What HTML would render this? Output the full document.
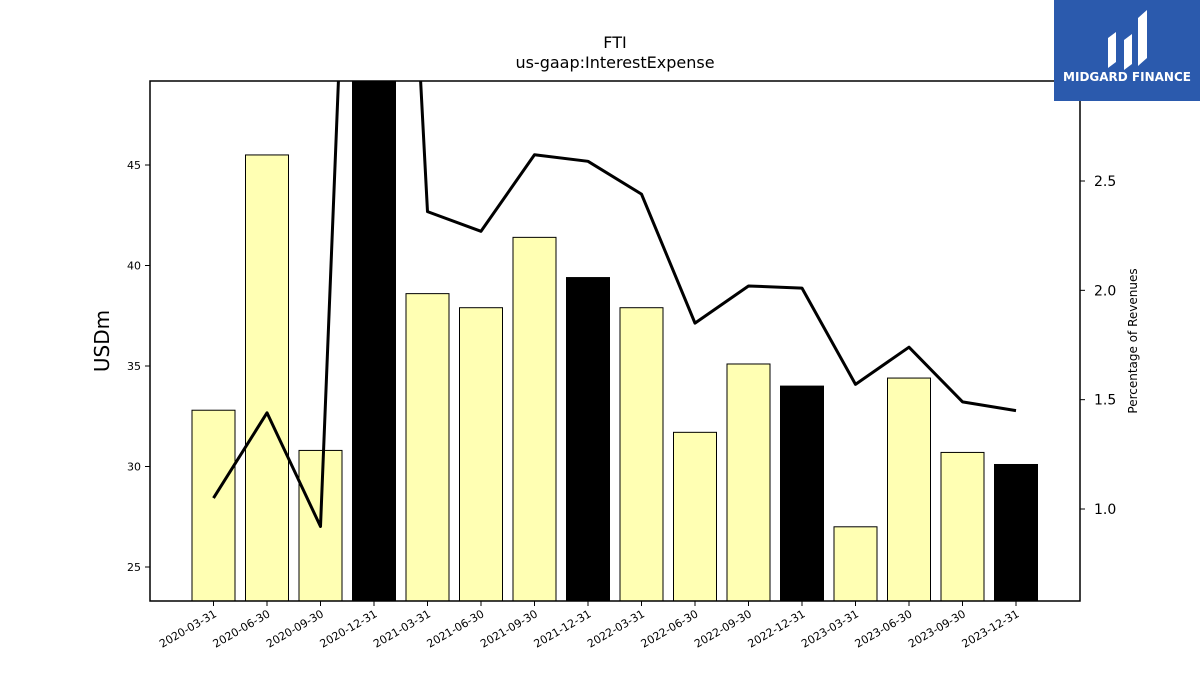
<!DOCTYPE html>
<html><head><meta charset="utf-8"><style>
body{margin:0;background:#fff;font-family:"Liberation Sans","DejaVu Sans",sans-serif}
</style></head><body>
<svg width="1200" height="675" viewBox="0 0 1200 675" xmlns="http://www.w3.org/2000/svg" id="chart" font-family="DejaVu Sans, Liberation Sans, sans-serif">
<rect width="1200" height="675" fill="#fff"/>
<text x="615" y="48" font-size="16" text-anchor="middle">FTI</text>
<text x="615" y="68" font-size="16" text-anchor="middle">us-gaap:InterestExpense</text>
<text transform="translate(109,341) rotate(-90)" font-size="20" text-anchor="middle">USDm</text>
<text transform="translate(1137,341) rotate(-90)" font-size="12" text-anchor="middle">Percentage of Revenues</text>
<clipPath id="pc"><rect x="150" y="81" width="930" height="520"/></clipPath>
<g id="bars" clip-path="url(#pc)"></g>
<g id="line" clip-path="url(#pc)"></g>
<g id="axes"></g>
<rect x="150" y="81" width="930" height="520" fill="none" stroke="#000" stroke-width="1.5"/>
<g>
<rect x="1054" y="0" width="146" height="101" fill="#2b5aad"/>
<path d="M1108 68 V38 L1116 32 V62 Z M1124 70 V40 L1132 34 V64 Z M1138 66 V18 L1147 10 V58 Z" fill="#fff"/>
<text x="1127" y="81" font-size="12" font-weight="bold" fill="#fff" text-anchor="middle">MIDGARD FINANCE</text>
</g>
</svg>
<script>
const categories=["2020-03-31","2020-06-30","2020-09-30","2020-12-31","2021-03-31","2021-06-30","2021-09-30","2021-12-31","2022-03-31","2022-06-30","2022-09-30","2022-12-31","2023-03-31","2023-06-30","2023-09-30","2023-12-31"];
const barValues=[32.8,45.5,30.8,52,38.6,37.9,41.4,39.4,37.9,31.7,35.1,34.0,27.0,34.4,30.7,30.1];
const annual=[false,false,false,true,false,false,false,true,false,false,false,true,false,false,false,true];
const pctValues=[1.05,1.44,0.92,7.0,2.36,2.27,2.62,2.59,2.44,1.85,2.02,2.01,1.57,1.74,1.49,1.45];
const leftTicks=[25,30,35,40,45];
const rightTicks=[1.0,1.5,2.0,2.5];
const NS="http://www.w3.org/2000/svg";
const X0=150,X1=1080,Y0=81,Y1=601;
const xs=i=>213.5+i*53.5;
const yL=v=>165+(45-v)*20.1;
const yR=v=>509-(v-1.0)*218.67;
function mk(t,a,p){const e=document.createElementNS(NS,t);for(const k in a)e.setAttribute(k,a[k]);p.appendChild(e);return e;}
const bg=document.getElementById('bars'),lg=document.getElementById('line'),ag=document.getElementById('axes');
barValues.forEach((v,i)=>{
 const y=yL(v);
 const r=mk('rect',{x:xs(i)-21.5,y:y,width:43,height:Y1-y,fill:annual[i]?'#000':'#ffffb3',stroke:'#000','stroke-width':1},bg);
 
 
});
const pl=mk('polyline',{points:pctValues.map((v,i)=>xs(i)+','+yR(v)).join(' '),fill:'none',stroke:'#000','stroke-width':3,'stroke-linejoin':'round'},lg);


leftTicks.forEach(t=>{
 const y=yL(t);
 mk('line',{x1:X0-5,x2:X0,y1:y,y2:y,stroke:'#000'},ag);
 const tx=mk('text',{x:X0-9,y:y+4,'font-size':11,'text-anchor':'end'},ag);tx.textContent=t;
 
 
});
rightTicks.forEach(t=>{
 const y=yR(t);
 mk('line',{x1:X1,x2:X1+5,y1:y,y2:y,stroke:'#000'},ag);
 const tx=mk('text',{x:X1+14,y:y+5,'font-size':14},ag);tx.textContent=t.toFixed(1);
 
 
});
categories.forEach((c,i)=>{
 const x=xs(i);
 mk('line',{x1:x,x2:x,y1:Y1,y2:Y1+5,stroke:'#000'},ag);
 const tx=mk('text',{transform:`translate(${x+4},${Y1+15}) rotate(-30)`,'font-size':11,'text-anchor':'end'},ag);tx.textContent=c;
 
 
});
</script>
</body></html>
